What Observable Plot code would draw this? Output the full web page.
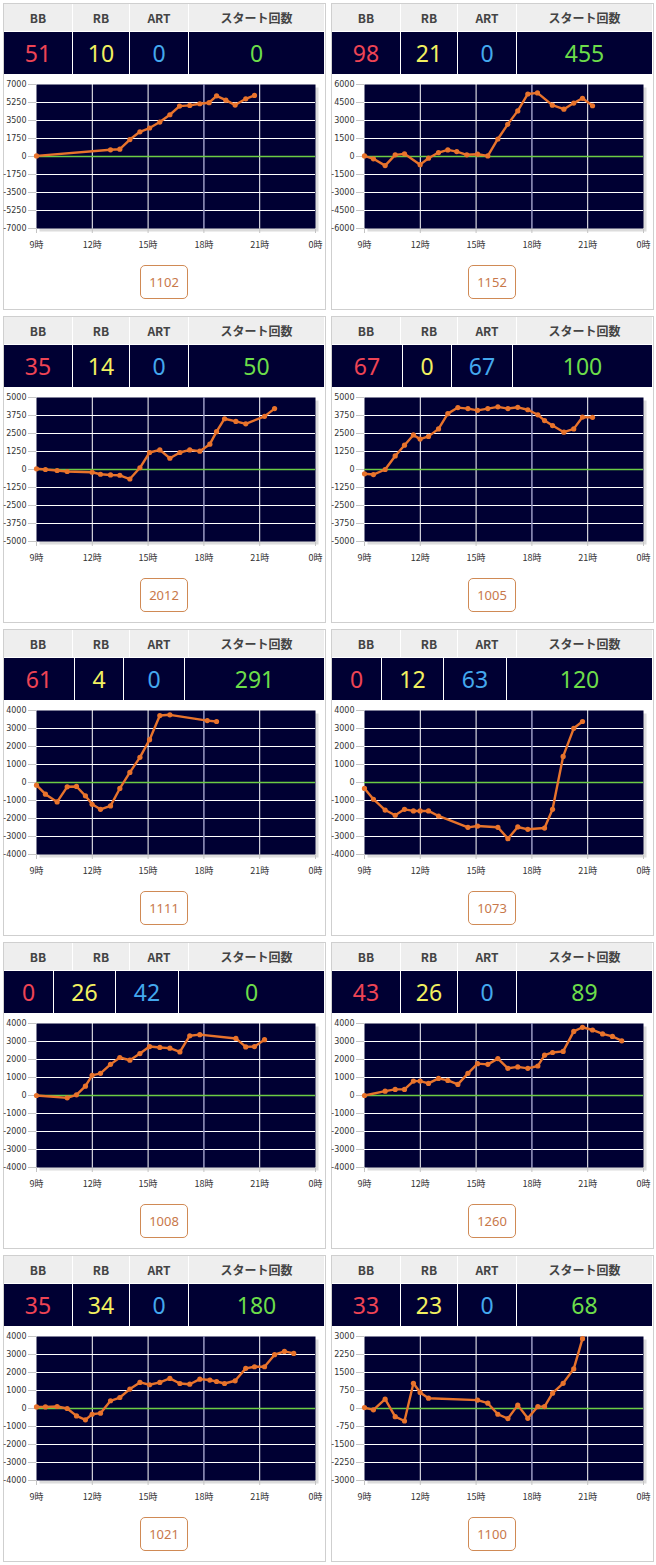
<!DOCTYPE html>
<html><head><meta charset="utf-8">
<script src="https://cdn.jsdelivr.net/npm/d3@7"></script>
<script src="https://cdn.jsdelivr.net/npm/@observablehq/plot@0.6"></script>
<style>
body{margin:0;background:#fff;width:656px;height:1565px;position:relative;overflow:hidden;font-family:"Noto Sans",sans-serif}
.panel{position:absolute;width:321px;height:305px;border:1px solid #cfcfcf;background:#fff}
.row{position:absolute;left:0;width:320px;display:flex;gap:1px;background:#fff}
.hdr{top:0;height:27px}
.hdr div{background:#eeeeee;color:#444;font-family:"Noto Sans CJK JP",sans-serif;font-weight:bold;font-size:12px;display:flex;align-items:center;justify-content:center}
.val{top:28px;height:42px}
.val div{background:#000033;font-family:"Noto Sans",sans-serif;font-size:23px;display:flex;align-items:center;justify-content:center}
.btn{position:absolute;left:136px;top:261px;width:46px;height:32px;border:1px solid #d08a55;border-radius:5px;color:#c8784a;font-size:13px;display:flex;align-items:center;justify-content:center;font-family:"Noto Sans",sans-serif}
.xax text{font-family:"Noto Sans CJK JP",sans-serif;font-size:9px}
</style></head><body>
<script>
// table values
const headers = ["BB", "RB", "ART", "スタート回数"];
const bbCounts = [51, 98, 35, 67, 61, 0, 0, 43, 35, 33];
const rbCounts = [10, 21, 14, 0, 4, 12, 26, 26, 34, 23];
const artCounts = [0, 0, 0, 67, 0, 63, 42, 0, 0, 0];
const startCounts = [0, 455, 50, 100, 291, 120, 0, 89, 180, 68];
const buttonLabels = ["1102", "1152", "2012", "1005", "1111", "1073", "1008", "1260", "1021", "1100"];
const yMax = [7000, 6000, 5000, 5000, 4000, 4000, 4000, 4000, 4000, 3000];
const xTicks = [9, 12, 15, 18, 21, 24];

// series (hour of day, difference)
const hours1 = [9.0, 12.98, 13.48, 14.02, 14.56, 15.08, 15.63, 16.17, 16.69, 17.24, 17.78, 18.28, 18.68, 19.18, 19.68, 20.25, 20.72];
const values1 = [60, 650, 710, 1650, 2400, 2770, 3350, 4060, 4900, 4970, 5130, 5230, 5900, 5480, 5000, 5610, 5940];
const hours2 = [9.0, 9.48, 10.11, 10.65, 11.15, 11.99, 12.44, 12.98, 13.48, 13.96, 14.5, 15.08, 15.63, 16.17, 16.7, 17.24, 17.78, 18.3, 19.1, 19.72, 20.25, 20.72, 21.26];
const values2 = [50, -190, -760, 140, 220, -680, -140, 330, 550, 410, 140, 190, 50, 1460, 2680, 3800, 5210, 5300, 4280, 3940, 4450, 4850, 4230];
const hours3 = [9.0, 9.48, 10.11, 10.65, 11.99, 12.44, 12.98, 13.48, 14.02, 14.56, 15.08, 15.63, 16.17, 16.71, 17.24, 17.78, 18.32, 18.68, 19.11, 19.72, 20.25, 21.26, 21.8];
const values3 = [50, 0, -70, -140, -190, -330, -380, -400, -660, 120, 1180, 1360, 780, 1180, 1360, 1270, 1760, 2630, 3525, 3340, 3170, 3690, 4230];
const hours4 = [9.0, 9.48, 10.11, 10.65, 11.15, 11.63, 11.99, 12.44, 12.98, 13.48, 14.02, 14.56, 15.08, 15.63, 16.17, 16.71, 17.24, 17.78, 18.32, 18.68, 19.11, 19.72, 20.25, 20.72, 21.26];
const values4 = [-300, -350, 0, 940, 1690, 2400, 2110, 2300, 2820, 3880, 4300, 4230, 4110, 4230, 4350, 4230, 4320, 4150, 3800, 3400, 3050, 2590, 2820, 3640, 3620];
const hours5 = [9.0, 9.48, 10.11, 10.65, 11.15, 11.63, 11.99, 12.44, 12.98, 13.48, 14.02, 14.56, 15.08, 15.63, 16.17, 18.18, 18.68];
const values5 = [-150, -650, -1080, -240, -220, -740, -1210, -1490, -1300, -330, 560, 1400, 2380, 3720, 3760, 3440, 3390];
const hours6 = [9.0, 9.48, 10.11, 10.65, 11.15, 11.63, 11.99, 12.44, 12.98, 14.56, 15.08, 16.17, 16.71, 17.24, 17.78, 18.68, 19.11, 19.68, 20.25, 20.72];
const values6 = [-330, -930, -1530, -1820, -1490, -1580, -1580, -1580, -1860, -2490, -2420, -2490, -3120, -2470, -2600, -2530, -1490, 1450, 3010, 3390];
const hours7 = [9.0, 10.65, 11.15, 11.63, 11.99, 12.44, 12.98, 13.48, 14.02, 14.56, 15.08, 15.63, 16.17, 16.71, 17.24, 17.78, 19.72, 20.25, 20.72, 21.26];
const values7 = [0, -130, 40, 520, 1120, 1230, 1730, 2110, 1960, 2330, 2720, 2670, 2630, 2420, 3320, 3380, 3170, 2700, 2720, 3100];
const hours8 = [9.0, 10.11, 10.65, 11.15, 11.63, 11.99, 12.44, 12.98, 13.48, 14.02, 14.56, 15.08, 15.63, 16.17, 16.71, 17.24, 17.78, 18.32, 18.68, 19.11, 19.68, 20.25, 20.72, 21.26, 21.8, 22.33, 22.83];
const values8 = [0, 240, 340, 340, 800, 800, 670, 950, 840, 615, 1230, 1770, 1730, 2050, 1510, 1590, 1510, 1640, 2240, 2390, 2450, 3560, 3790, 3640, 3420, 3280, 3040];
const hours9 = [9.0, 9.48, 10.11, 10.65, 11.15, 11.63, 11.99, 12.44, 12.98, 13.48, 14.02, 14.56, 15.08, 15.63, 16.17, 16.71, 17.24, 17.78, 18.32, 18.68, 19.11, 19.68, 20.25, 20.72, 21.26, 21.8, 22.33, 22.83];
const values9 = [90, 90, 110, 0, -410, -630, -320, -260, 430, 610, 1080, 1450, 1320, 1450, 1670, 1390, 1350, 1630, 1580, 1500, 1390, 1540, 2230, 2320, 2320, 2990, 3170, 3060];
const hours10 = [9.0, 9.48, 10.11, 10.65, 11.15, 11.63, 11.99, 12.44, 15.08, 15.63, 16.17, 16.71, 17.24, 17.78, 18.32, 18.68, 19.11, 19.68, 20.25, 20.72];
const values10 = [40, -55, 390, -340, -520, 1050, 670, 430, 350, 220, -240, -420, 140, -410, 80, 80, 640, 1050, 1650, 2910];

const seriesHours = [hours1, hours2, hours3, hours4, hours5, hours6, hours7, hours8, hours9, hours10];
const seriesValues = [values1, values2, values3, values4, values5, values6, values7, values8, values9, values10];

// value-row column widths (table auto layout)
const wideA = [68, 56, 58, 135], wideB = [70, 48, 60, 139], wideC = [49, 61, 62, 145];
const valueCols = [wideA, wideA, wideA, wideB, wideB, wideC, wideC, wideA, wideA, wideA];
const headerCols = [68, 56, 58, 135];
const valueColors = ["#ee4455", "#f2f060", "#44a8ee", "#6cdd4a"];

const lineColor = "#e8732c";

for (let i = 0; i < 10; i++) {
  const col = i % 2, row = Math.floor(i / 2);
  const panel = document.createElement("div");
  panel.className = "panel";
  panel.style.left = (3 + col * 328) + "px";
  panel.style.top = (3 + row * 313) + "px";

  const hdr = document.createElement("div");
  hdr.className = "row hdr";
  headers.forEach((h, j) => {
    const c = document.createElement("div");
    c.style.width = headerCols[j] + "px";
    c.textContent = h;
    hdr.appendChild(c);
  });
  panel.appendChild(hdr);

  const val = document.createElement("div");
  val.className = "row val";
  [bbCounts[i], rbCounts[i], artCounts[i], startCounts[i]].forEach((v, j) => {
    const c = document.createElement("div");
    c.style.width = valueCols[i][j] + "px";
    c.style.color = valueColors[j];
    c.textContent = v;
    val.appendChild(c);
  });
  panel.appendChild(val);

  const m = yMax[i], step = m / 4;
  const yTicks = d3.range(-m, m + step / 2, step);
  const data = seriesHours[i].map((h, k) => ({h, v: seriesValues[i][k]}));

  const chart = Plot.plot({
    width: 320, height: 182,
    marginLeft: 32, marginRight: 9, marginTop: 8, marginBottom: 30,
    style: {fontFamily: "DejaVu Sans", fontSize: "8px", color: "#333", background: "transparent", overflow: "visible"},
    x: {domain: [9, 24], label: null},
    y: {domain: [-m, m], label: null},
    marks: [
      Plot.frame({fill: "#dcdcdc", stroke: null, dx: 3, dy: 3}),
      Plot.frame({fill: "#000033", stroke: null}),
      Plot.ruleY(yTicks.filter(t => t !== 0 && Math.abs(t) !== m), {stroke: "#ffffff", strokeWidth: 1}),
      Plot.ruleX([12, 15, 21], {stroke: "#ffffff", strokeWidth: 1}),
      Plot.ruleX([18], {stroke: "#9a9ac4", strokeWidth: 1.5}),
      Plot.ruleY([0], {stroke: "#6ccc44", strokeWidth: 1.5}),
      Plot.axisY({ticks: yTicks, tickFormat: d => String(d), tickSize: 8, tickPadding: 2, stroke: "#c4c4c4", fill: "#333", label: null}),
      Plot.axisX({ticks: xTicks, tickFormat: h => (h % 24) + "時", tickSize: 5, tickPadding: 8, stroke: "#c4c4c4", fill: "#333", label: null, className: "xax"}),
      Plot.line(data, {x: "h", y: "v", stroke: lineColor, strokeWidth: 2.4}),
      Plot.dot(data, {x: "h", y: "v", r: 2.6, fill: lineColor, stroke: null})
    ]
  });
  chart.style.position = "absolute";
  chart.style.left = "0px";
  chart.style.top = "72px";
  panel.appendChild(chart);

  const btn = document.createElement("div");
  btn.className = "btn";
  btn.textContent = buttonLabels[i];
  panel.appendChild(btn);

  document.body.appendChild(panel);
}
</script>
</body></html>
